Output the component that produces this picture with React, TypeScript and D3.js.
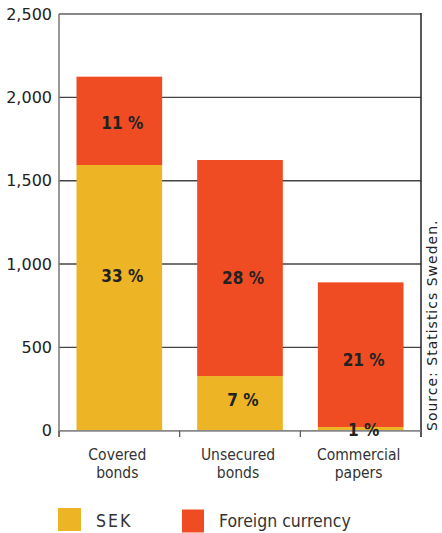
import React from "react";
import * as d3 from "d3";

const categories = ["Covered bonds", "Unsecured bonds", "Commercial papers"];
const categoryLines = [["Covered", "bonds"], ["Unsecured", "bonds"], ["Commercial", "papers"]];
const sekValues = [1594, 328, 22];
const foreignValues = [530, 1296, 868];
const sekLabels = ["33 %", "7 %", "1 %"];
const foreignLabels = ["11 %", "28 %", "21 %"];
const sekLabelAt = [930, 184, 4];
const foreignLabelAt = [1848, 918, 424];
const yTicks = [0, 500, 1000, 1500, 2000, 2500];
const seriesNames = ["SEK", "Foreign currency"];
const SEK_COLOR = "#EDB426";
const FX_COLOR = "#F04C23";
const COND = "'DejaVu Sans Condensed', 'DejaVu Sans', sans-serif";

export default function App() {
  const left = 59, right = 421, top = 14, bottom = 430.7;
  const x = d3.scaleBand<string>().domain(categories).range([left, right]).paddingInner(0.29).paddingOuter(0.145);
  const y = d3.scaleLinear().domain([0, 2500]).range([bottom, top]);
  const fmt = d3.format(",");
  const step = x.step();
  const boundaries = [0, 1, 2, 3].map((i) => left + i * step);

  return (
    <svg width={442} height={533} style={{ position: "absolute", left: 0, top: 0, background: "#fff" }}>
      {yTicks.map((t) => (
        <line key={t} x1={left} x2={right} y1={y(t)} y2={y(t)}
          stroke={t === 0 || t === 2500 ? "#888" : "#444"} strokeWidth={t === 2500 ? 2 : 1.4} />
      ))}
      {yTicks.map((t) => (
        <text key={"l" + t} x={52} y={y(t)} dy="0.36em" textAnchor="end"
          fontFamily="DejaVu Sans" fontSize={16} fill="#222">{fmt(t)}</text>
      ))}
      {categories.map((c, i) => {
        const bx = x(c)!;
        const bw = x.bandwidth();
        const s = sekValues[i];
        const f = foreignValues[i];
        return (
          <g key={c}>
            <rect x={bx} width={bw} y={y(s + f)} height={y(s) - y(s + f)} fill={FX_COLOR} />
            <rect x={bx} width={bw} y={y(s)} height={y(0) - y(s)} fill={SEK_COLOR} />
          </g>
        );
      })}
      <line x1={left} x2={left} y1={top} y2={437} stroke="#777" strokeWidth={1.5} />
      <line x1={right} x2={right} y1={top - 1} y2={437} stroke="#222" strokeWidth={1.5} />
      <line x1={left} x2={right} y1={bottom} y2={bottom} stroke="#888" strokeWidth={1.5} />
      {boundaries.map((bx, i) => (
        <line key={"tk" + i} x1={bx} x2={bx} y1={bottom} y2={437} stroke="#555" strokeWidth={1.2} />
      ))}
      {categories.map((c, i) => {
        const cx = x(c)! + x.bandwidth() / 2 + 3;
        return (
          <g key={"v" + c} fontFamily={COND} fontWeight="bold" fontSize={17} fill="#222" textAnchor="middle">
            <text x={cx} y={y(foreignLabelAt[i])} dy="0.36em">{foreignLabels[i]}</text>
            <text x={cx} y={y(sekLabelAt[i])} dy="0.36em">{sekLabels[i]}</text>
          </g>
        );
      })}
      {categories.map((c, i) => {
        const cx = x(c)! + x.bandwidth() / 2 - 2;
        return (
          <text key={"c" + c} x={cx} textAnchor="middle" fontFamily={COND}
            fontSize={15.5} fill="#333">
            {categoryLines[i].map((ln, j) => (
              <tspan key={j} x={cx} y={460 + j * 18}>{ln}</tspan>
            ))}
          </text>
        );
      })}
      <text transform="translate(437,431) rotate(-90)" fontFamily="DejaVu Sans" fontSize={14} letterSpacing={1} fill="#222">
        Source: Statistics Sweden.
      </text>
      <rect x={58} y={508} width={23} height={23} fill={SEK_COLOR} />
      <text x={96} y={527} fontFamily={COND} fontSize={17.5} letterSpacing={2} fill="#333">{seriesNames[0]}</text>
      <rect x={182} y={509.5} width={22} height={23} fill={FX_COLOR} />
      <text x={219} y={527} fontFamily={COND} fontSize={17.5} fill="#333">{seriesNames[1]}</text>
    </svg>
  );
}
